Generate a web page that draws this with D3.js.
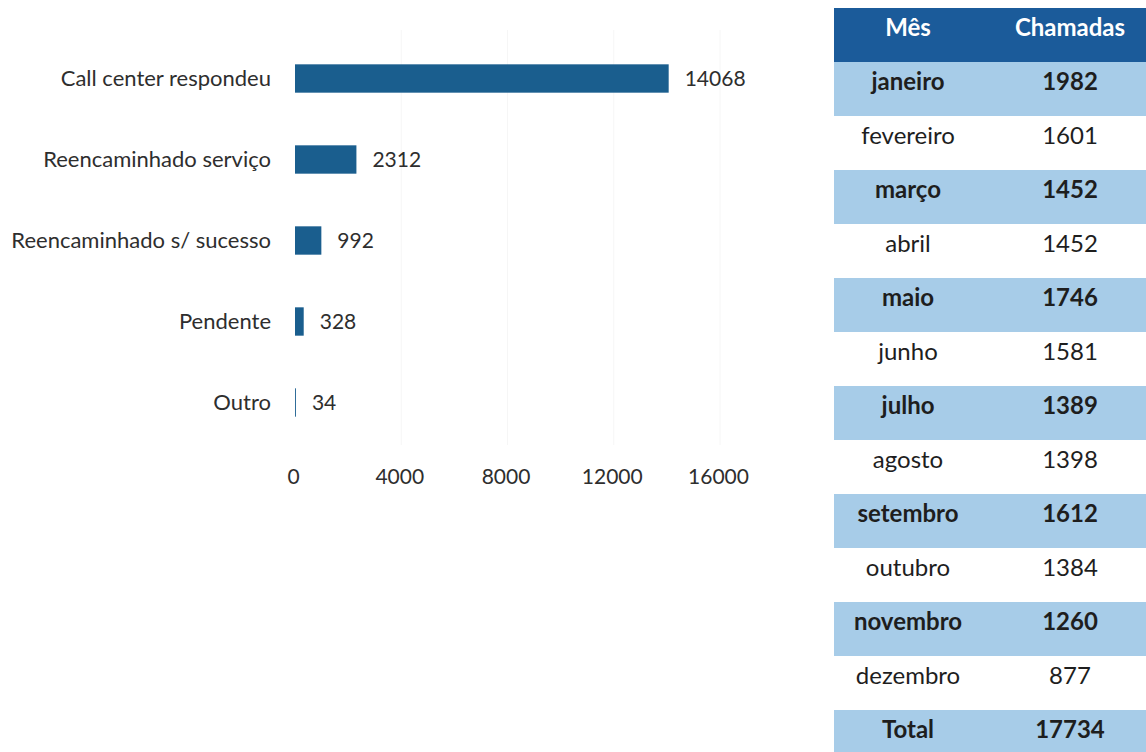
<!DOCTYPE html>
<html><head><meta charset="utf-8">
<script src="https://cdn.jsdelivr.net/npm/d3@7"></script>
<style>
html,body{margin:0;padding:0;background:#fff;}
svg text{font-family:Lato,"Open Sans",sans-serif;}
</style></head>
<body><svg id="c" width="1146" height="752"></svg>
<script>
const categories = ["Call center respondeu","Reencaminhado serviço","Reencaminhado s/ sucesso","Pendente","Outro"];
const values = [14068, 2312, 992, 328, 34];
const xTicks = [0, 4000, 8000, 12000, 16000];
const months = ["janeiro","fevereiro","março","abril","maio","junho","julho","agosto","setembro","outubro","novembro","dezembro"];
const calls = [1982, 1601, 1452, 1452, 1746, 1581, 1389, 1398, 1612, 1384, 1260, 877];
const totalLabel = "Total";
const totalValue = 17734;
const headers = ["Mês","Chamadas"];

const svg = d3.select("#c");
const barColor = "#1a5e8e";
const textColor = "#2e2e2e";

// Bar chart
const x = d3.scaleLinear().domain([0,16000]).range([295, 720]);
const y = d3.scaleBand().domain(categories).range([38, 443]).paddingInner(0.65).paddingOuter(0.325);

const g = svg.append("g");
g.append("g").selectAll("line").data(xTicks.slice(1)).join("line")
  .attr("x1", d=>x(d)).attr("x2", d=>x(d)).attr("y1", 30).attr("y2", 445)
  .attr("stroke", "#f6f6f6").attr("stroke-width", 1);

g.append("g").selectAll("rect").data(values).join("rect")
  .attr("x", x(0)).attr("y", (d,i)=>y(categories[i]))
  .attr("width", d=>x(d)-x(0)).attr("height", y.bandwidth())
  .attr("fill", barColor);

g.append("g").selectAll("text").data(values).join("text")
  .attr("x", d=>x(d)+16).attr("y", (d,i)=>y(categories[i])+y.bandwidth()/2)
  .attr("dy","0.35em").attr("font-size", 21).attr("fill", textColor)
  .text(d=>d);

g.append("g").selectAll("text").data(categories).join("text")
  .attr("x", 271).attr("y", d=>y(d)+y.bandwidth()/2)
  .attr("dy","0.35em").attr("text-anchor","end").attr("font-size", 22).attr("fill", textColor)
  .text(d=>d);

const axis = d3.axisBottom(x).tickValues(xTicks).tickSize(0).tickPadding(0).tickFormat(d3.format("d"));
const ax = g.append("g").attr("transform","translate(-2,469)").call(axis);
ax.select(".domain").remove();
ax.selectAll("text").attr("font-size", 21).attr("fill", textColor).attr("font-family","Lato,'Open Sans',sans-serif");

// Table
const rows = months.map((m,i)=>({m, v:calls[i], bold: i%2===0, band: i%2===0}));
rows.push({m: totalLabel, v: totalValue, bold: true, band: true, total: true});
const tx0 = 834, tx1 = 1146, rowH = 54, tTop = 8;
const colX = [908, 1070];
const headerColor = "#1b5b9a", bandColor = "#a7cce8";

const t = svg.append("g");
t.append("rect").attr("x", tx0).attr("y", tTop).attr("width", tx1-tx0).attr("height", rowH).attr("fill", headerColor);
t.selectAll("text.h").data(headers).join("text").attr("class","h")
  .attr("x", (d,i)=>colX[i]).attr("y", tTop+rowH/2 - 7).attr("dy","0.35em")
  .attr("text-anchor","middle").attr("font-size", 24).attr("font-weight","bold").attr("fill","#ffffff").text(d=>d);

const rg = t.selectAll("g.r").data(rows).join("g").attr("class","r")
  .attr("transform", (d,i)=>`translate(0,${tTop+rowH*(i+1)})`);
rg.filter(d=>d.band).append("rect").attr("x", tx0).attr("y", 0).attr("width", tx1-tx0).attr("height", rowH).attr("fill", bandColor);
rg.append("text").attr("x", colX[0]).attr("y", rowH/2 - 7).attr("dy","0.35em").attr("text-anchor","middle")
  .attr("font-size", 24).attr("font-weight", d=>d.bold?"bold":"normal").attr("fill","#1e1e1e").text(d=>d.m);
rg.append("text").attr("x", colX[1]).attr("y", rowH/2 - 7).attr("dy","0.35em").attr("text-anchor","middle")
  .attr("font-size", 24).attr("font-weight", d=>d.bold?"bold":"normal").attr("fill","#1e1e1e").text(d=>d.v);
</script></body></html>
